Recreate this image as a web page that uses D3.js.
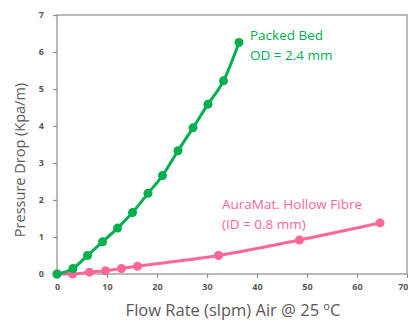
<!DOCTYPE html>
<html><head><meta charset="utf-8">
<script src="https://cdn.jsdelivr.net/npm/d3@7"></script>
<style>body{margin:0;background:#fff}svg{display:block}</style>
</head><body>
<script>
const packedX = [0, 3.2, 6.1, 9.1, 12.1, 15.1, 18.2, 21.1, 24.2, 27.2, 30.2, 33.3, 36.4];
const packedY = [0, 0.15, 0.5, 0.87, 1.24, 1.66, 2.18, 2.66, 3.33, 3.95, 4.59, 5.22, 6.26];
const fibreX = [0, 3.1, 6.5, 9.7, 12.9, 16.1, 32.3, 48.5, 64.6];
const fibreY = [0, 0.0, 0.05, 0.09, 0.15, 0.21, 0.5, 0.92, 1.38];
const xTicks = [0, 10, 20, 30, 40, 50, 60, 70];
const yTicks = [0, 1, 2, 3, 4, 5, 6, 7];

const W = 408, H = 323;
const m = {l: 57, t: 15, r: 407, b: 274};
const svg = d3.select("body").append("svg").attr("width", W).attr("height", H);
const x = d3.scaleLinear().domain([0, 70]).range([m.l, m.r]);
const y = d3.scaleLinear().domain([0, 7]).range([m.b, m.t]);
const font = "'Open Sans', sans-serif";
const axisCol = "#8c8c8c";

// frame
svg.append("rect").attr("x", m.l).attr("y", m.t).attr("width", m.r - m.l).attr("height", m.b - m.t)
  .attr("fill", "none").attr("stroke", axisCol).attr("stroke-width", 1.2);

const xa = svg.append("g").attr("transform", `translate(0,${m.b})`)
  .call(d3.axisBottom(x).tickValues(xTicks).tickFormat(d3.format("d")).tickSize(4).tickPadding(6));
const ya = svg.append("g").attr("transform", `translate(${m.l},0)`)
  .call(d3.axisLeft(y).tickValues(yTicks).tickFormat(d3.format("d")).tickSize(4).tickPadding(9));
[xa, ya].forEach(g => {
  g.select(".domain").remove();
  g.selectAll("line").attr("stroke", axisCol).attr("stroke-width", 1.2);
  g.selectAll("text").attr("fill", "#595959").style("font-family", font)
    .style("font-size", "9px").style("font-weight", "bold");
});
// last x label sits at the right edge: keep it inside the picture
xa.selectAll(".tick text").filter(d => d === 70).attr("text-anchor", "end").attr("dx", 1);

function series(xs, ys, col) {
  const pts = xs.map((v, i) => [v, ys[i]]);
  svg.append("path").datum(pts)
    .attr("d", d3.line().x(d => x(d[0])).y(d => y(d[1])).curve(d3.curveMonotoneX))
    .attr("fill", "none").attr("stroke", col).attr("stroke-width", 3);
  svg.append("g").selectAll("circle").data(pts).join("circle")
    .attr("cx", d => x(d[0])).attr("cy", d => y(d[1])).attr("r", 4.5).attr("fill", col);
}
const green = "#00B050", pink = "#FF6699";
series(fibreX, fibreY, pink);
series(packedX, packedY, green);

function label(lines, x0, y0, col) {
  const t = svg.append("text").attr("x", x0).attr("y", y0).attr("fill", col)
    .style("font-family", font).style("font-size", "13.5px");
  lines.forEach((s, i) => t.append("tspan").attr("x", x0).attr("dy", i ? 20 : 0).text(s));
}
label(["Packed Bed", "OD = 2.4 mm"], 250, 40, green);
label(["AuraMat. Hollow Fibre", "(ID = 0.8 mm)"], 222, 209, pink);

// axis titles
const xt = svg.append("text").attr("x", 233).attr("y", 316).attr("text-anchor", "middle")
  .attr("fill", "#595959").style("font-family", font).style("font-size", "16.5px");
xt.append("tspan").text("Flow Rate (slpm) Air @ 25 ");
xt.append("tspan").attr("dy", -6).style("font-size", "11px").text("o");
xt.append("tspan").attr("dy", 6).text("C");

svg.append("text").attr("transform", `translate(25,160) rotate(-90)`)
  .attr("text-anchor", "middle").attr("fill", "#595959")
  .style("font-family", font).style("font-size", "14.5px").text("Pressure Drop (Kpa/m)");
</script>
</body></html>
